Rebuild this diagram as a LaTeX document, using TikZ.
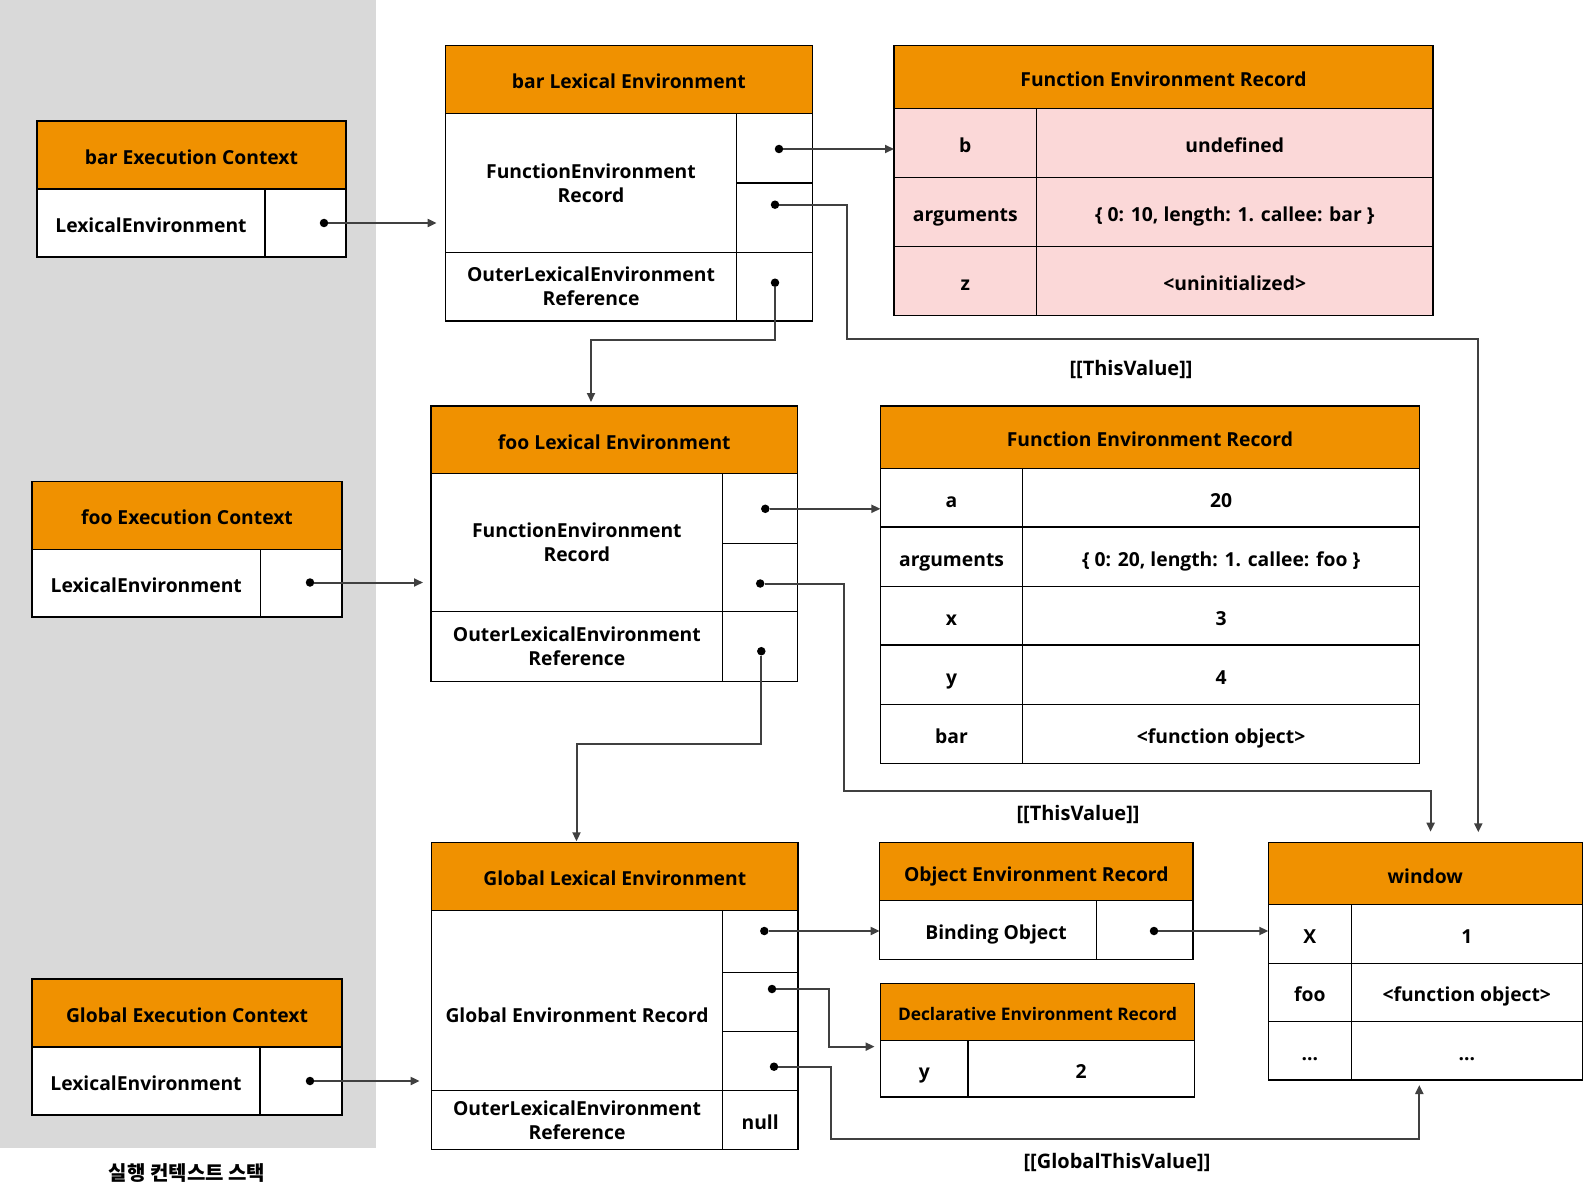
\documentclass[tikz,border=0pt]{standalone}
\usepackage{fontspec}
\setmainfont{Open Sans}
\newfontfamily\krfont{Noto Sans CJK KR}
\usepackage{xcolor}
\usetikzlibrary{arrows.meta, positioning, calc}
\definecolor{headcolor}{RGB}{240,145,0}
\definecolor{pinkcolor}{RGB}{251,216,216}
\definecolor{stackcolor}{RGB}{217,217,217}
\definecolor{wirecolor}{RGB}{64,64,64}

\begin{document}
\begin{tikzpicture}[
    x=1pt, y=-1pt,
    sz/.style 2 args={minimum width=#1pt, minimum height=#2pt},
    box/.style={draw, line width=1.3pt, anchor=north west, inner sep=0pt, outer sep=0pt, align=center, font=\bfseries\fontsize{19.3}{24}\selectfont},
    oneline/.style={text height=19pt, text depth=0pt},
    head/.style={box, oneline, fill=headcolor},
    cell/.style={box, oneline, fill=white},
    twocell/.style={box, fill=white},
    pink/.style={box, oneline, fill=pinkcolor},
    dot/.style={circle, fill=black, inner sep=0pt, minimum size=8.5pt},
    arrow/.style={-{Triangle[length=9pt, width=8pt]}, line width=2pt, draw=wirecolor},
    lbl/.style={font=\bfseries\fontsize{20}{24}\selectfont}
]
    \fill[stackcolor] (0,0) rectangle (376,1148);
    \useasboundingbox (0,0) rectangle (1583,1185);

    % execution context stack
    \node[head, sz={309}{68}] (barctx) at (37,121) {bar Execution Context};
    \node[cell, sz={228}{68}] (barctxle) at (barctx.south west) {LexicalEnvironment};
    \node[cell, sz={81}{68}] (barctxptr) at (barctxle.north east) {};
    \node[dot] (barctxd) at (324,223) {};

    \node[head, sz={310}{67.6}] (fooctx) at (32,481.6) {foo Execution Context};
    \node[cell, sz={228.5}{67.7}] (fooctxle) at (fooctx.south west) {LexicalEnvironment};
    \node[cell, sz={81.5}{67.7}] (fooctxptr) at (fooctxle.north east) {};
    \node[dot] (fooctxd) at (310,582.5) {};

    \node[head, sz={310}{68}] (globctx) at (32,979) {Global Execution Context};
    \node[cell, sz={228}{68}] (globctxle) at (globctx.south west) {LexicalEnvironment};
    \node[cell, sz={82}{68}] (globctxptr) at (globctxle.north east) {};
    \node[dot] (globctxd) at (310,1081) {};

    \node[font=\krfont\bfseries\fontsize{20}{24}\selectfont] (stack) at (187,1173) {실행 컨텍스트 스택};

    % bar lexical environment
    \node[head, sz={366.6}{68}] (barlex) at (445.6,45.3) {bar Lexical Environment};
    \node[twocell, sz={290.8}{139}] (barlexrec) at (barlex.south west) {FunctionEnvironment\\Record};
    \node[twocell, sz={290.8}{68.7}] (barlexouter) at (barlexrec.south west) {OuterLexicalEnvironment\\Reference};
    \node[cell, sz={75.8}{69.7}] (barlexp1) at (barlexrec.north east) {};
    \node[cell, sz={75.8}{69.3}] (barlexp2) at (barlexp1.south west) {};
    \node[cell, sz={75.8}{68.7}] (barlexp3) at (barlexp2.south west) {};
    \node[dot] (barlexd1) at (779,149) {};
    \node[dot] (barlexd2) at (775,204.7) {};
    \node[dot] (barlexd3) at (775,282.7) {};

    \node[head, sz={539}{63}] (barrec) at (894,45.3) {Function Environment Record};
    \node[pink, sz={142.5}{69}] (barrecb) at (barrec.south west) {b};
    \node[pink, sz={396.5}{69}] (barrecbv) at (barrecb.north east) {undefined};
    \node[pink, sz={142.5}{69.4}] (barrecargs) at (barrecb.south west) {arguments};
    \node[pink, sz={396.5}{69.4}] (barrecargsv) at (barrecargs.north east) {\{ 0: 10, length: 1. callee: bar \}};
    \node[pink, sz={142.5}{68.6}] (barrecz) at (barrecargs.south west) {z};
    \node[pink, sz={396.5}{68.6}] (barreczv) at (barrecz.north east) {<uninitialized>};

    % foo lexical environment
    \node[head, sz={366.6}{67.5}] (foolex) at (431,406) {foo Lexical Environment};
    \node[twocell, sz={291.7}{138.3}] (foolexrec) at (foolex.south west) {FunctionEnvironment\\Record};
    \node[twocell, sz={291.7}{69.7}] (foolexouter) at (foolexrec.south west) {OuterLexicalEnvironment\\Reference};
    \node[cell, sz={74.9}{69.7}] (foolexp1) at (foolexrec.north east) {};
    \node[cell, sz={74.9}{68.6}] (foolexp2) at (foolexp1.south west) {};
    \node[cell, sz={74.9}{69.7}] (foolexp3) at (foolexp2.south west) {};
    \node[dot] (foolexd1) at (765.3,508.8) {};
    \node[dot] (foolexd2) at (760.2,583.5) {};
    \node[dot] (foolexd3) at (761.3,651.2) {};

    \node[head, sz={539.1}{62.5}] (foorec) at (880.4,406) {Function Environment Record};
    \node[cell, sz={142.3}{58.5}] (foorecak) at (foorec.south west) {a};
    \node[cell, sz={396.8}{58.5}] (foorecav) at (foorecak.north east) {20};
    \node[cell, sz={142.3}{59.6}] (foorecargs) at (foorecak.south west) {arguments};
    \node[cell, sz={396.8}{59.6}] (foorecargsv) at (foorecargs.north east) {\{ 0: 20, length: 1. callee: foo \}};
    \node[cell, sz={142.3}{58.5}] (foorecx) at (foorecargs.south west) {x};
    \node[cell, sz={396.8}{58.5}] (foorecxv) at (foorecx.north east) {3};
    \node[cell, sz={142.3}{59.6}] (foorecy) at (foorecx.south west) {y};
    \node[cell, sz={396.8}{59.6}] (foorecyv) at (foorecy.north east) {4};
    \node[cell, sz={142.3}{58.6}] (foorecbar) at (foorecy.south west) {bar};
    \node[cell, sz={396.8}{58.6}] (foorecbarv) at (foorecbar.north east) {<function object>};

    % global lexical environment
    \node[head, sz={366.4}{68}] (globlex) at (431.6,842.3) {Global Lexical Environment};
    \node[cell, sz={290.8}{180}] (globlexrec) at (globlex.south west) {};
    \node[lbl, font=\bfseries\fontsize{19.3}{24}\selectfont] (globlexrectext) at ($(globlexrec.center)+(0,14.5)$) {Global Environment Record};
    \node[twocell, sz={290.8}{59}] (globlexouter) at (globlexrec.south west) {OuterLexicalEnvironment\\Reference};
    \node[cell, sz={75.6}{62}] (globlexp1) at (globlexrec.north east) {};
    \node[cell, sz={75.6}{59}] (globlexp2) at (globlexp1.south west) {};
    \node[cell, sz={75.6}{59}] (globlexp3) at (globlexp2.south west) {};
    \node[cell, sz={75.6}{59}] (globlexnull) at (globlexp3.south west) {null};
    \node[dot] (globlexd1) at (764.3,931) {};
    \node[dot] (globlexd2) at (772,989) {};
    \node[dot] (globlexd3) at (774,1066.7) {};

    \node[head, sz={313.4}{58.4}] (objrec) at (879.6,842.3) {Object Environment Record};
    \node[cell, sz={216.8}{58.6}] (objrecbind) at (objrec.south west) {\hspace{16pt}Binding Object};
    \node[cell, sz={96.6}{58.6}] (objrecptr) at (objrecbind.north east) {};
    \node[dot] (objrecd) at (1154,931) {};

    \node[head, sz={313.8}{57}, font=\bfseries\fontsize{17.3}{20}\selectfont, text height=17pt] (decrec) at (880.6,983.3) {Declarative Environment Record};
    \node[cell, sz={87.4}{56.7}] (decrecy) at (decrec.south west) {y};
    \node[cell, sz={226.4}{56.7}] (decrecyv) at (decrecy.north east) {2};

    \node[head, sz={314}{62.4}] (win) at (1268.3,842.3) {window};
    \node[cell, sz={83}{58.6}] (winx) at (win.south west) {X};
    \node[cell, sz={231}{58.6}] (winxv) at (winx.north east) {1};
    \node[cell, sz={83}{58}] (winfoo) at (winx.south west) {foo};
    \node[cell, sz={231}{58}] (winfoov) at (winfoo.north east) {<function object>};
    \node[cell, sz={83}{58.7}] (winetc) at (winfoo.south west) {...};
    \node[cell, sz={231}{58.7}] (winetcv) at (winetc.north east) {...};

    % connectors
    \draw[arrow, shorten >=9pt] (barctxd) -- (barctxd -| barlexrec.west);
    \draw[arrow, shorten >=8pt] (fooctxd) -- (fooctxd -| foolexrec.west);
    \draw[arrow, shorten >=12pt] (globctxd) -- (globctxd -| globlexrec.west);

    \draw[arrow] (barlexd1) -- (barlexd1 -| barrecb.west);
    \draw[arrow, shorten >=10pt] (barlexd2) -- ++(72,0) -- ++(0,134) -| ([xshift=53pt]win.north);
    \draw[arrow, shorten >=4pt] (barlexd3) -- ++(0,57.6) -| ([xshift=-23.3pt]foolex.north);

    \draw[arrow] (foolexd1) -- (foolexd1 -| foorecak.west);
    \draw[arrow, shorten >=10.6pt] (foolexd2) -- ++(83.8,0) -- ++(0,207) -| ([xshift=5.3pt]win.north);
    \draw[arrow, shorten >=1pt] (foolexd3) -- ++(0,93) -| ([xshift=-38.3pt]globlex.north);

    \draw[arrow] (globlexd1) -- (globlexd1 -| objrecbind.west);
    \draw[arrow, shorten >=6pt] (globlexd2) -- ++(56.6,0) |- ([yshift=22pt]decrecy.west);
    \draw[arrow, shorten >=5pt] (globlexd3) -- ++(57,0) -- ++(0,72.3) -| ([xshift=-6pt]win.south |- winetcv.south);
    \draw[arrow] (objrecd) -- (objrecd -| winx.west);

    \node[lbl] (thisbar) at (1131,369.5) {[[ThisValue]]};
    \node[lbl] (thisfoo) at (1078,814.7) {[[ThisValue]]};
    \node[lbl] (globthis) at (1117,1162) {[[GlobalThisValue]]};
\end{tikzpicture}
\end{document}
